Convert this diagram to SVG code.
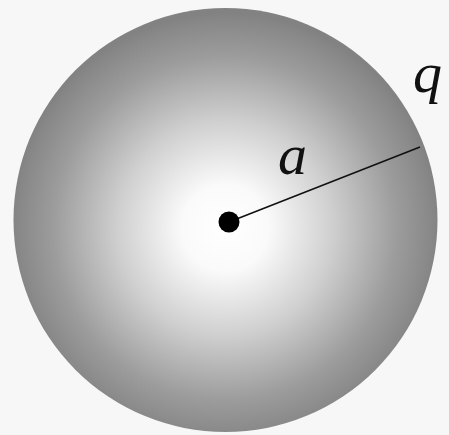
<svg xmlns="http://www.w3.org/2000/svg" width="449" height="435" viewBox="0 0 449 435">
<defs>
<radialGradient id="g" cx="225" cy="228" r="215" gradientUnits="userSpaceOnUse">
<stop offset="0" stop-color="#ffffff"/>
<stop offset="0.2" stop-color="#fafafa"/>
<stop offset="0.5" stop-color="#cfcfcf"/>
<stop offset="0.8" stop-color="#9c9c9c"/>
<stop offset="0.96" stop-color="#888888"/>
<stop offset="1" stop-color="#828282"/>
</radialGradient>
<style>.lbl{font-family:"Liberation Serif","DejaVu Serif",serif;font-style:italic;fill:#111}</style>
</defs>
<rect width="449" height="435" fill="#f7f7f7"/>
<g id="sphere"><circle cx="225.5" cy="220" r="212" fill="url(#g)"/></g>
<g id="connectors"><line x1="229" y1="222" x2="420" y2="147" stroke="#111" stroke-width="1.6"/></g>
<g id="center"><circle cx="229" cy="222" r="10.5" fill="#000"/></g>
<g id="labels">
<text class="lbl" x="278" y="174" font-size="58">a</text>
<text class="lbl" x="413" y="92" font-size="58">q</text>
</g>
</svg>
